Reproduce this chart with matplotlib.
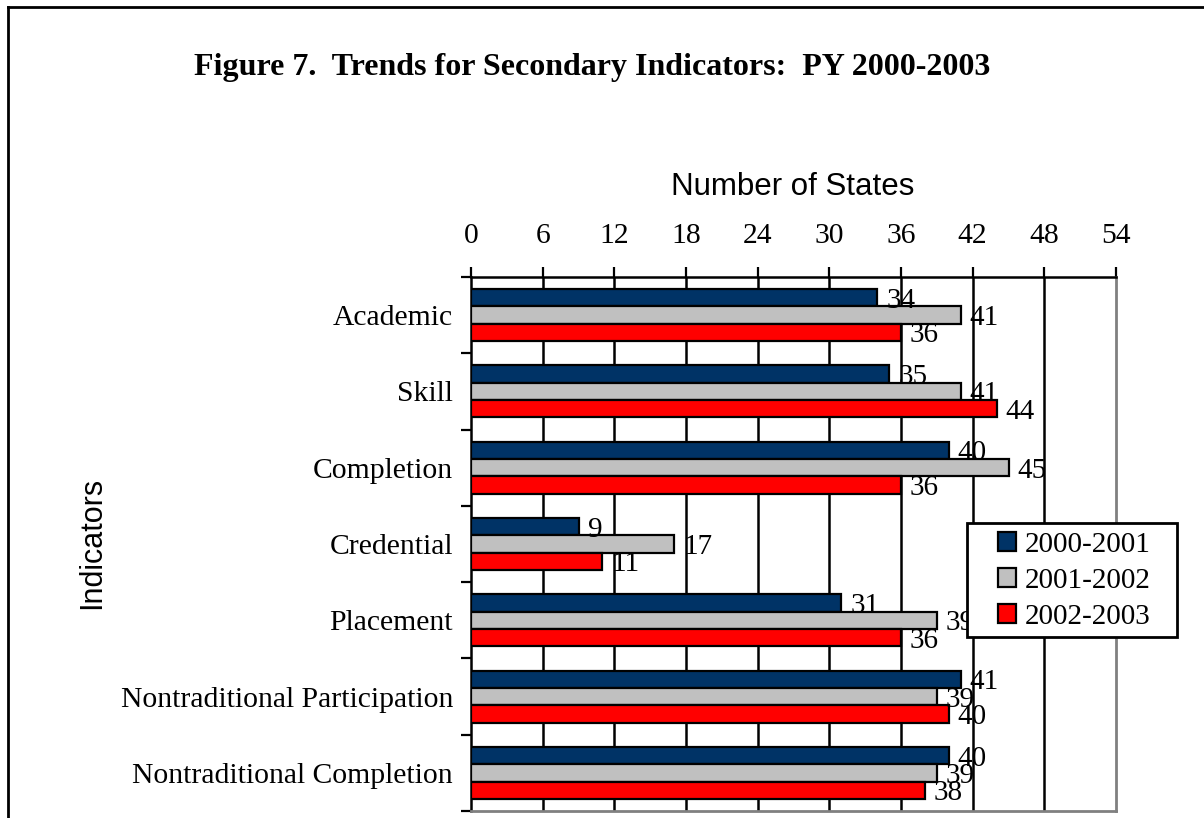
import matplotlib
matplotlib.use("Agg")
import matplotlib.pyplot as plt
from matplotlib.lines import Line2D
from matplotlib.patches import Patch, Rectangle
import numpy as np

categories = ["Academic", "Skill", "Completion", "Credential", "Placement",
              "Nontraditional Participation", "Nontraditional Completion"]
series_names = ["2000-2001", "2001-2002", "2002-2003"]
v2000_2001 = [34, 35, 40, 9, 31, 41, 40]
v2001_2002 = [41, 41, 45, 17, 39, 39, 39]
v2002_2003 = [36, 44, 36, 11, 36, 40, 38]
series_values = [v2000_2001, v2001_2002, v2002_2003]
colors = ["#003366", "#C0C0C0", "#FF0000"]
xticks = [0, 6, 12, 18, 24, 30, 36, 42, 48, 54]

W, H = 1204, 818
fig = plt.figure(figsize=(W / 100, H / 100), dpi=100)
serif = ["Liberation Serif", "DejaVu Serif"]
sans = ["Liberation Sans", "DejaVu Sans"]

# axes position from pixel coords
x0, x1, y0, y1 = 471, 1116, 277, 811
ax = fig.add_axes([x0 / W, 1 - y1 / H, (x1 - x0) / W, (y1 - y0) / H])

n = len(categories)
h = 0.227
y = np.arange(n)
for j, (vals, c) in enumerate(zip(series_values, colors)):
    pos = y + (j - 1) * h
    ax.barh(pos, vals, height=h, color=c, edgecolor="black",
            linewidth=1.6, label=series_names[j], zorder=3)
    for p, v in zip(pos, vals):
        ax.annotate(str(v), (v, p), xytext=(6.5, 0), textcoords="offset points",
                    va="center_baseline", ha="left", fontsize=21,
                    family=serif, zorder=5)

ax.set_xlim(0, 54)
ax.set_ylim(n - 0.5, -0.5)
ax.xaxis.tick_top()
ax.set_xticks(xticks)
ax.set_xticklabels([str(t) for t in xticks], family=serif, fontsize=21.3)
ax.tick_params(axis="x", direction="out", length=7.5, width=1.6, pad=13,
               colors="black")
for t in xticks[1:-1]:
    ax.axvline(t, color="black", linewidth=1.8, zorder=1)

ax.set_yticks(np.arange(-0.5, n, 1.0))
ax.set_yticklabels([])
ax.tick_params(axis="y", which="major", direction="out", length=7, width=1.6)
ax.set_yticks(y, minor=True)
ax.set_yticklabels(categories, minor=True, family=serif, fontsize=21.3)
ax.tick_params(axis="y", which="minor", length=0, pad=13)

ax.spines["top"].set_color("black")
ax.spines["top"].set_linewidth(1.8)
ax.spines["left"].set_color("black")
ax.spines["left"].set_linewidth(1.8)
ax.spines["right"].set_color("#808080")
ax.spines["right"].set_linewidth(2)
ax.spines["bottom"].set_color("#808080")
ax.spines["bottom"].set_linewidth(2)

fig.text(793 / W, 1 - 187 / H, "Number of States", ha="center", va="center",
         family=sans, fontsize=22.5)
fig.text(92 / W, 1 - 543 / H, "Indicators", ha="center", va="center",
         rotation=90, family=sans, fontsize=22)
fig.text(592 / W, 1 - 68 / H, "Figure 7.  Trends for Secondary Indicators:  PY 2000-2003",
         ha="center", va="center", family=serif, fontsize=23, fontweight="bold")

# legend frame
fig.add_artist(Rectangle((967 / W, 1 - 637 / H), (1177 - 967) / W, (637 - 523) / H,
                         transform=fig.transFigure, facecolor="white",
                         edgecolor="black", linewidth=2, zorder=9))
handles = [Patch(facecolor=c, edgecolor="black", linewidth=1.6) for c in colors]
leg = fig.legend(handles, series_names, loc="upper left",
                 bbox_to_anchor=(998 / W, 1 - 532 / H),
                 prop={"family": serif, "size": 21}, frameon=False,
                 borderpad=0, handlelength=0.62, handleheight=0.62,
                 handletextpad=0.3, labelspacing=0.34, borderaxespad=0)
leg.set_zorder(10)

# chart-area border (left and top edges)
fig.add_artist(Line2D([8 / W, 8 / W], [0, 1 - 7 / H], color="black", linewidth=2,
                      transform=fig.transFigure))
fig.add_artist(Line2D([8 / W, 1], [1 - 7 / H, 1 - 7 / H], color="black", linewidth=2,
                      transform=fig.transFigure))

fig.savefig("out.png", dpi=100)
